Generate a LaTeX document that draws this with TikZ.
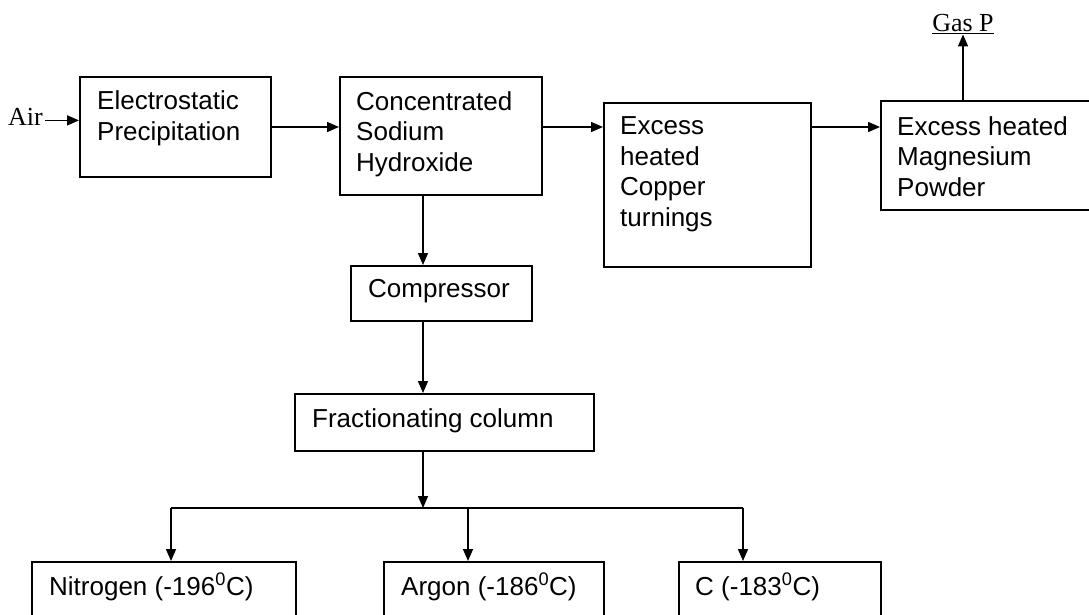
\documentclass[tikz,border=0pt]{standalone}
\usepackage{fontspec}
\setmainfont{Liberation Sans}
\newfontfamily\tnr{Liberation Serif}
\usetikzlibrary{arrows.meta}
\begin{document}
\begin{tikzpicture}[x=1pt,y=-1pt,
  box/.style={draw, line width=1.8pt, inner sep=0pt, anchor=north west},
  txt/.style={inner sep=0pt, anchor=base west, align=left, font=\fontsize{26}{30.5}\selectfont},
  serif/.style={inner sep=0pt, anchor=base west, font=\tnr\fontsize{26}{30}\selectfont},
  arr/.style={line width=1.6pt, -{Triangle[length=12pt,width=10pt]}},
  conn/.style={line width=1.6pt}]
\useasboundingbox (0,0) rectangle (1089,615);
\clip (0,0) rectangle (1089,615);
% boxes
\node[box, minimum width=191pt, minimum height=100pt] (esp) at (79,76) {};
\node[box, minimum width=202pt, minimum height=118pt] (naoh) at (339,76) {};
\node[box, minimum width=207pt, minimum height=164pt] (cu) at (603,102) {};
\node[box, minimum width=230pt, minimum height=109pt] (mg) at (880,100) {};
\node[box, minimum width=181pt, minimum height=55pt] (comp) at (350,265) {};
\node[box, minimum width=299pt, minimum height=57pt] (frac) at (294,393) {};
\node[box, minimum width=264pt, minimum height=80pt] (n2) at (31,561) {};
\node[box, minimum width=220pt, minimum height=80pt] (ar) at (383,561) {};
\node[box, minimum width=202pt, minimum height=80pt] (cx) at (678,561) {};
% texts (anchor = baseline of the last line)
\node[txt] (tesp) at (97,140) {Electrostatic\\Precipitation};
\node[txt] (tnaoh) at (356,171) {Concentrated\\Sodium\\Hydroxide};
\node[txt] (tcu) at (620,226) {Excess\\heated\\Copper\\turnings};
\node[txt] (tmg) at (897,196) {Excess heated\\Magnesium\\Powder};
\node[txt] (tcomp) at (368,297) {Compressor};
\node[txt] (tfrac) at (312,427) {Fractionating column};
\node[txt] (tn2) at (49,595) {Nitrogen (-196\textsuperscript{0}C)};
\node[txt] (tar) at (401,595) {Argon (-186\textsuperscript{0}C)};
\node[txt] (tc) at (695,595) {C (-183\textsuperscript{0}C)};
\node[serif] (air) at (8,125) {Air};
\node[serif, anchor=base] (gasp) at (963,32) {\underline{Gas P}};
% connectors
\coordinate (vx) at (423,0);
\coordinate (row) at (0,127);
\coordinate (split) at (423,508);
\coordinate (bl) at (171,508);
\coordinate (bm) at (468,508);
\coordinate (br) at (743,508);
\draw[arr] ([xshift=2pt,yshift=-4pt]air.east) -- ([yshift=-4pt]air.east -| esp.west);
\draw[arr] (esp.east |- row) -- (naoh.west |- row);
\draw[arr] (naoh.east |- row) -- (cu.west |- row);
\draw[arr] (cu.east |- row) -- (mg.west |- row);
\draw[arr] (gasp.south |- mg.north) -- (gasp.south);
\draw[arr] (naoh.south -| vx) -- (comp.north -| vx);
\draw[arr] (comp.south -| vx) -- (frac.north -| vx);
\draw[arr] (frac.south -| vx) -- (split);
\draw[conn] (bl) -- (br);
\draw[arr] (bl) -- (bl |- n2.north);
\draw[arr] (bm) -- (bm |- ar.north);
\draw[arr] (br) -- (br |- cx.north);
\end{tikzpicture}
\end{document}
